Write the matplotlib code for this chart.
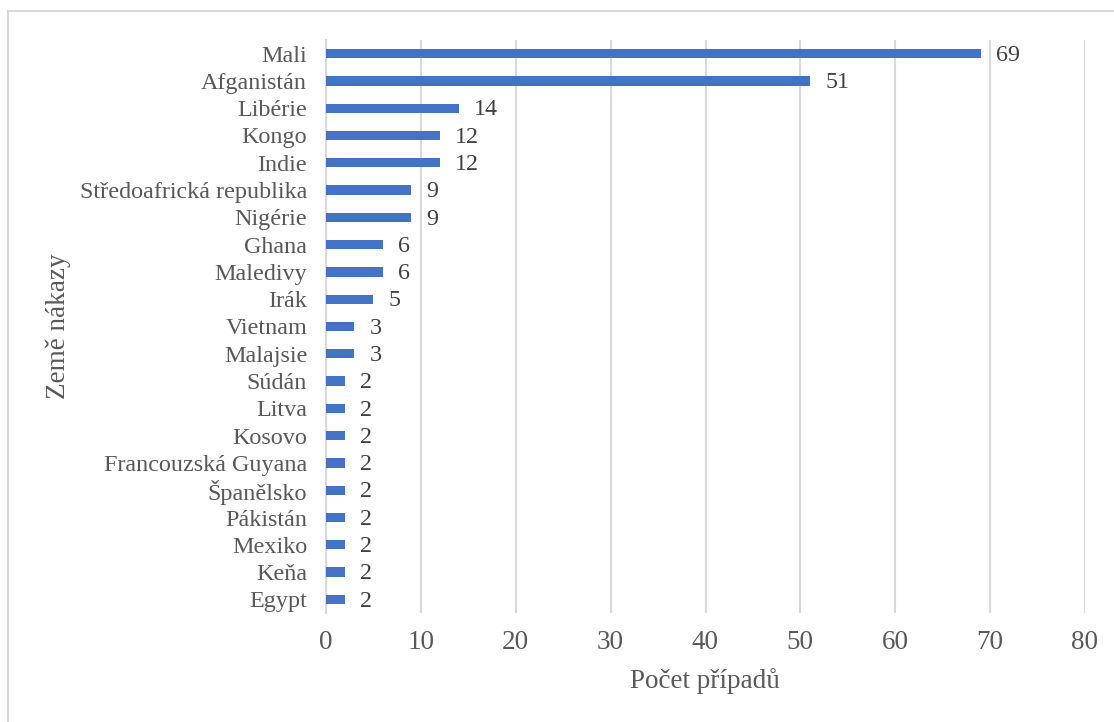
import matplotlib
matplotlib.use("Agg")
import matplotlib.pyplot as plt
from matplotlib.lines import Line2D

countries = ["Mali", "Afganistán", "Libérie", "Kongo", "Indie",
             "Středoafrická republika", "Nigérie", "Ghana", "Maledivy", "Irák",
             "Vietnam", "Malajsie", "Súdán", "Litva", "Kosovo",
             "Francouzská Guyana", "Španělsko", "Pákistán", "Mexiko", "Keňa", "Egypt"]
cases = [69, 51, 14, 12, 12, 9, 9, 6, 6, 5, 3, 3, 2, 2, 2, 2, 2, 2, 2, 2, 2]
x_ticks = [0, 10, 20, 30, 40, 50, 60, 70, 80]

text_color = "#595959"
bar_color = "#4472C4"
grid_color = "#D9D9D9"

plt.rcParams["font.family"] = ["Liberation Serif", "DejaVu Serif"]

W, H = 1114, 722
fig = plt.figure(figsize=(W / 100, H / 100), dpi=100)
ax = fig.add_axes([326 / W, 1 - 613 / H, (1085 - 326) / W, (613 - 40) / H])

pos = list(range(len(countries)))
ax.barh(pos, cases, height=0.34, color=bar_color, zorder=3)
ax.set_ylim(len(countries) - 0.5, -0.5)
ax.set_xlim(0, 80)
ax.set_xticks(x_ticks)
ax.set_yticks(pos)
ax.set_yticklabels(countries)

for p, v in zip(pos, cases):
    ax.annotate(str(v), (v, p), xytext=(11, -1.2), textcoords="offset points",
                va="center", ha="left", fontsize=17.3, color="#404040")

ax.grid(axis="x", color=grid_color, linewidth=1.5, zorder=0)
for s in ["top", "right", "bottom"]:
    ax.spines[s].set_visible(False)
ax.spines["left"].set_color(grid_color)
ax.spines["left"].set_linewidth(1.5)
ax.tick_params(axis="both", length=0, colors=text_color)
ax.tick_params(axis="y", labelsize=17.4, pad=13.5)
ax.tick_params(axis="x", labelsize=19.5, pad=12.5)

# axis titles
fig.text(705 / W, 1 - 688 / H, "Počet případů", fontsize=19.5, color=text_color,
         ha="center", va="baseline")
fig.text(58 / W, 1 - 326 / H, "Země nákazy", fontsize=19.5, color=text_color,
         ha="center", va="center", rotation=90)

# chart frame
fig.add_artist(Line2D([8 / W, 8 / W], [0, 1 - 11 / H], transform=fig.transFigure,
                      color=grid_color, linewidth=1.5))
fig.add_artist(Line2D([8 / W, 1], [1 - 11 / H, 1 - 11 / H], transform=fig.transFigure,
                      color=grid_color, linewidth=1.5))

fig.savefig("out.png", dpi=100, facecolor="white")
